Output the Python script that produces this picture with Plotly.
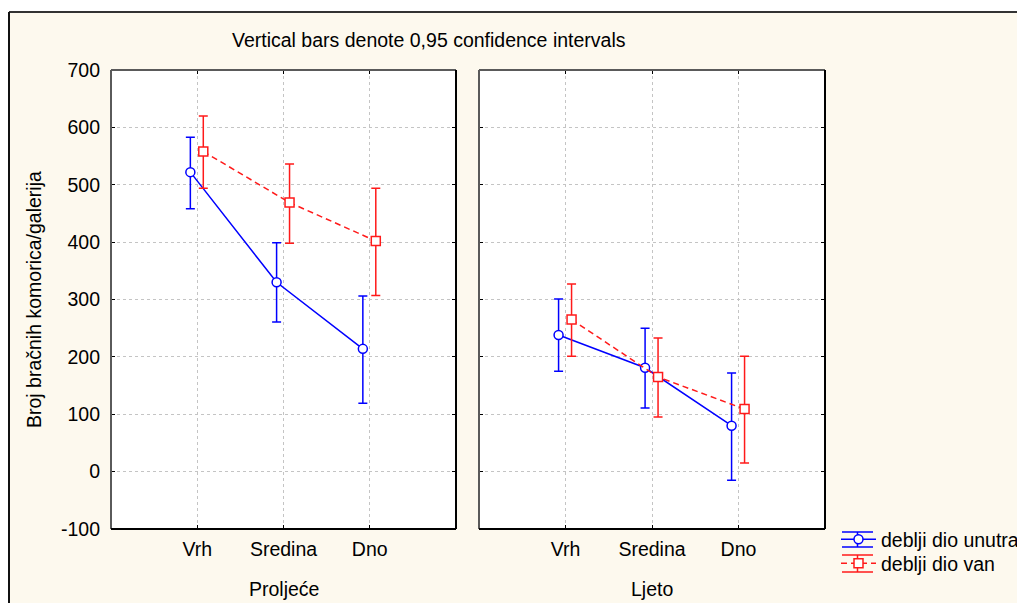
import plotly.graph_objects as go

# The page body has an 8px default margin: the figure is sized and laid out so
# that page pixel coordinates match the reference.
OFF = 8
W, H = 1025 - OFF, 603 - OFF

# ---------------- data ----------------
positions = ["Vrh", "Sredina", "Dno"]
seasons = ["Proljeće", "Ljeto"]
series_names = ["deblji dio unutra", "deblji dio van"]

# Proljeće (spring)
spring_in_mean = [522, 330, 214]
spring_in_low = [458, 261, 119]
spring_in_high = [583, 399, 306]
spring_out_mean = [558, 469, 402]
spring_out_low = [494, 398, 307]
spring_out_high = [620, 536, 494]

# Ljeto (summer)
summer_in_mean = [238, 181, 80]
summer_in_low = [175, 111, -15]
summer_in_high = [301, 250, 172]
summer_out_mean = [265, 165, 109]
summer_out_low = [201, 95, 15]
summer_out_high = [327, 233, 201]

title_text = "Vertical bars denote 0,95 confidence intervals"
y_title = "Broj bračnih komorica/galerija"
y_ticks = [-100, 0, 100, 200, 300, 400, 500, 600, 700]
y_tick_text = ["-100", "0", "100", "200", "300", "400", "500", "600", "700"]

# ---------------- style ----------------
FONT = "Liberation Sans, Arial, sans-serif"
FS = 19.5
BLUE = "#0000ff"
RED = "#ff1a1a"
CREAM = "#fdf9ee"
GRID = "#c4c4c4"
offsets = {"in": -0.08, "out": 0.07}


def px(x):
    return (x - OFF) / W


def py(y):
    return 1 - (y - OFF) / H


fig = go.Figure()

panels = [
    ("x", "y", spring_in_mean, spring_in_low, spring_in_high,
     spring_out_mean, spring_out_low, spring_out_high, True),
    ("x2", "y2", summer_in_mean, summer_in_low, summer_in_high,
     summer_out_mean, summer_out_low, summer_out_high, False),
]
cat_x = [1, 2, 3]
for xa, ya, im, il, ih, om, ol, oh, show in panels:
    fig.add_trace(go.Scatter(
        x=[c + offsets["in"] for c in cat_x], y=im, xaxis=xa, yaxis=ya,
        mode="lines+markers", name=series_names[0], showlegend=show,
        legend="legend",
        line=dict(color=BLUE, width=1.5),
        marker=dict(symbol="circle", size=9, color="white",
                    line=dict(color=BLUE, width=1.5)),
        error_y=dict(type="data", symmetric=False,
                     array=[h - m for h, m in zip(ih, im)],
                     arrayminus=[m - l for m, l in zip(im, il)],
                     color=BLUE, thickness=1.5, width=4.5),
    ))
    fig.add_trace(go.Scatter(
        x=[c + offsets["out"] for c in cat_x], y=om, xaxis=xa, yaxis=ya,
        mode="lines+markers", name=series_names[1], showlegend=show,
        legend="legend2",
        line=dict(color=RED, width=1.5, dash="6px,4px"),
        marker=dict(symbol="square", size=9, color="white",
                    line=dict(color=RED, width=1.5)),
        error_y=dict(type="data", symmetric=False,
                     array=[h - m for h, m in zip(oh, om)],
                     arrayminus=[m - l for m, l in zip(om, ol)],
                     color=RED, thickness=1.5, width=4.5),
    ))

xcommon = dict(range=[0, 4], tickvals=cat_x, ticktext=positions,
               showgrid=True, gridcolor=GRID, griddash="dot", gridwidth=1,
               zeroline=False, showline=False, ticks="inside", ticklen=4,
               tickcolor="black", mirror="ticks", ticklabelstandoff=6,
               tickfont=dict(family=FONT, size=FS, color="black"))
ycommon = dict(range=[-100, 700], tickvals=y_ticks, ticktext=y_tick_text,
               showgrid=True, gridcolor=GRID, griddash="dot", gridwidth=1,
               zeroline=False, showline=False, ticks="inside", ticklen=4,
               tickcolor="black", mirror="ticks", ticklabelstandoff=10,
               tickfont=dict(family=FONT, size=FS, color="black"),
               domain=[py(529), py(70)])

legend_common = dict(xanchor="left", yanchor="top", bgcolor="rgba(0,0,0,0)",
                      font=dict(family=FONT, size=FS), tracegroupgap=0,
                      itemwidth=35)

panel_l = (111, 456)
panel_r = (479, 825)
fig.update_layout(
    width=W, height=H,
    margin=dict(l=0, r=0, t=0, b=0, pad=0, autoexpand=False),
    paper_bgcolor=CREAM, plot_bgcolor="white",
    font=dict(family=FONT, size=FS, color="black"),
    xaxis=dict(domain=[px(panel_l[0]), px(panel_l[1])], anchor="y", **xcommon),
    xaxis2=dict(domain=[px(panel_r[0]), px(panel_r[1])], anchor="y2", **xcommon),
    yaxis=dict(anchor="x", **ycommon),
    yaxis2=dict(anchor="x2", matches="y", showticklabels=False, **ycommon),
    showlegend=True,
    legend=dict(x=px(836), y=py(520), **legend_common),
    legend2=dict(x=px(836), y=py(544), **legend_common),
)

shapes = []
# white strips outside outer frame
shapes.append(dict(type="rect", xref="paper", yref="paper", x0=-0.01, x1=1.01,
                   y0=py(12), y1=1.01, fillcolor="white", line=dict(width=0), layer="below"))
shapes.append(dict(type="rect", xref="paper", yref="paper", x0=-0.01, x1=px(9),
                   y0=-0.01, y1=1.01, fillcolor="white", line=dict(width=0), layer="below"))
# outer frame lines
shapes.append(dict(type="line", xref="paper", yref="paper", x0=px(9), x1=1.01,
                   y0=py(12), y1=py(12), line=dict(color="#333333", width=2)))
shapes.append(dict(type="line", xref="paper", yref="paper", x0=px(9), x1=px(9),
                   y0=py(12), y1=-0.01, line=dict(color="#111111", width=2)))
# panel borders
for xa, ya in [("x", "y"), ("x2", "y2")]:
    xr, yr = xa + " domain", ya + " domain"
    shapes.append(dict(type="line", xref=xr, yref=yr, x0=0, x1=1, y0=1, y1=1,
                       line=dict(color="#5a5a5a", width=2)))
    shapes.append(dict(type="line", xref=xr, yref=yr, x0=0, x1=0, y0=0, y1=1,
                       line=dict(color="#5a5a5a", width=2)))
    shapes.append(dict(type="line", xref=xr, yref=yr, x0=0, x1=1, y0=0, y1=0,
                       line=dict(color="black", width=2)))
    shapes.append(dict(type="line", xref=xr, yref=yr, x0=1, x1=1, y0=0, y1=1,
                       line=dict(color="black", width=2)))
# error-bar caps on the legend symbols
for (top, bot, col) in [(532, 547, BLUE), (555, 572, RED)]:
    for yy in (top, bot):
        shapes.append(dict(type="line", xref="paper", yref="paper",
                           x0=px(842), x1=px(873), y0=py(yy), y1=py(yy),
                           line=dict(color=col, width=1.5)))
    shapes.append(dict(type="line", xref="paper", yref="paper",
                       x0=px(857.5), x1=px(857.5), y0=py(top), y1=py(bot),
                       line=dict(color=col, width=1.5), layer="below"))
fig.update_layout(shapes=shapes)

ann = [
    dict(text=title_text, x=px(428.5), y=py(40), xref="paper", yref="paper",
         xanchor="center", yanchor="middle", showarrow=False,
         font=dict(family=FONT, size=FS, color="black")),
    dict(text=y_title, x=px(34), y=py(300), xref="paper", yref="paper",
         xanchor="center", yanchor="middle", showarrow=False, textangle=-90,
         font=dict(family=FONT, size=FS, color="black")),
    dict(text=seasons[0], x=px((panel_l[0] + panel_l[1]) / 2), y=py(589),
         xref="paper", yref="paper", xanchor="center", yanchor="middle",
         showarrow=False, font=dict(family=FONT, size=FS, color="black")),
    dict(text=seasons[1], x=px((panel_r[0] + panel_r[1]) / 2), y=py(589),
         xref="paper", yref="paper", xanchor="center", yanchor="middle",
         showarrow=False, font=dict(family=FONT, size=FS, color="black")),
]
fig.update_layout(annotations=ann)

fig.write_html("out.html")
